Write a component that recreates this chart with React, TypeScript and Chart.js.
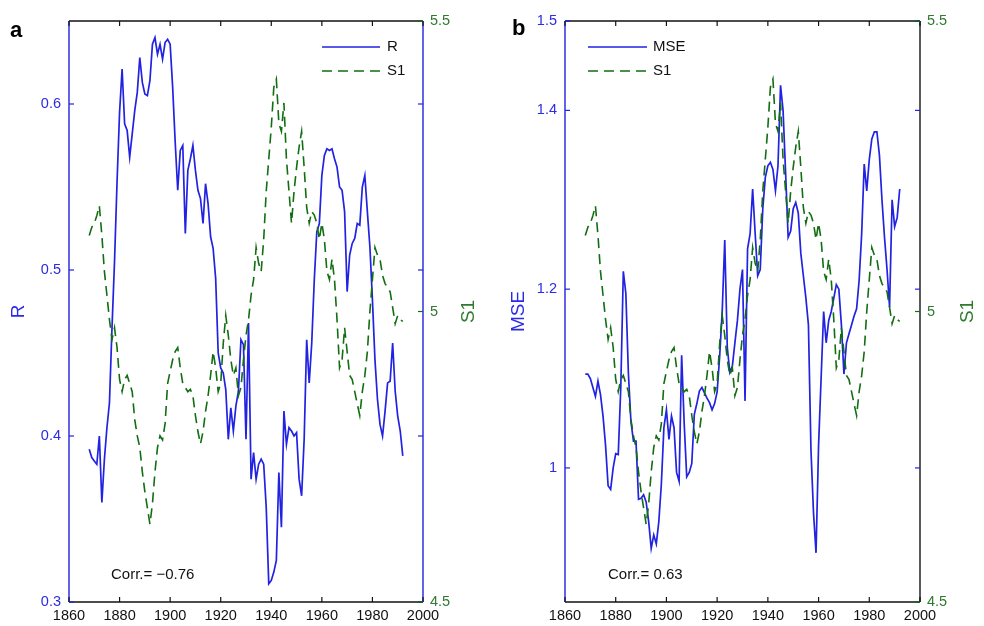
import { useEffect, useRef } from 'react';
import { Chart, registerables } from 'chart.js';

Chart.register(...registerables);

// ---------------- data ----------------
const YEARS = [
  1868, 1869, 1870, 1871, 1872, 1873, 1874, 1875, 1876, 1877,
  1878, 1879, 1880, 1881, 1882, 1883, 1884, 1885, 1886, 1887,
  1888, 1889, 1890, 1891, 1892, 1893, 1894, 1895, 1896, 1897,
  1898, 1899, 1900, 1901, 1902, 1903, 1904, 1905, 1906, 1907,
  1908, 1909, 1910, 1911, 1912, 1913, 1914, 1915, 1916, 1917,
  1918, 1919, 1920, 1921, 1922, 1923, 1924, 1925, 1926, 1927,
  1928, 1929, 1930, 1931, 1932, 1933, 1934, 1935, 1936, 1937,
  1938, 1939, 1940, 1941, 1942, 1943, 1944, 1945, 1946, 1947,
  1948, 1949, 1950, 1951, 1952, 1953, 1954, 1955, 1956, 1957,
  1958, 1959, 1960, 1961, 1962, 1963, 1964, 1965, 1966, 1967,
  1968, 1969, 1970, 1971, 1972, 1973, 1974, 1975, 1976, 1977,
  1978, 1979, 1980, 1981, 1982, 1983, 1984, 1985, 1986, 1987,
  1988, 1989, 1990, 1991, 1992,
];

const R_VALUES = [
  0.392, 0.387, 0.385, 0.383, 0.400, 0.360, 0.386, 0.405, 0.420, 0.465,
  0.505, 0.553, 0.595, 0.621, 0.588, 0.584, 0.568, 0.582, 0.596, 0.607,
  0.628, 0.613, 0.606, 0.605, 0.614, 0.636, 0.640, 0.630, 0.636, 0.627,
  0.637, 0.639, 0.636, 0.610, 0.577, 0.548, 0.572, 0.575, 0.522, 0.560,
  0.567, 0.575, 0.560, 0.548, 0.543, 0.528, 0.552, 0.540, 0.520, 0.513,
  0.495, 0.450, 0.441, 0.438, 0.428, 0.398, 0.417, 0.403, 0.418, 0.427,
  0.458, 0.455, 0.398, 0.468, 0.374, 0.390, 0.374, 0.383, 0.386, 0.383,
  0.357, 0.311, 0.313, 0.318, 0.325, 0.378, 0.345, 0.415, 0.395, 0.405,
  0.403, 0.400, 0.402, 0.374, 0.364, 0.398, 0.458, 0.432, 0.456, 0.494,
  0.523, 0.528, 0.557, 0.569, 0.573, 0.572, 0.573, 0.567, 0.562, 0.550,
  0.548, 0.535, 0.487, 0.509, 0.516, 0.519, 0.528, 0.527, 0.550, 0.557,
  0.535, 0.514, 0.482, 0.446, 0.422, 0.407, 0.400, 0.415, 0.432, 0.433,
  0.456, 0.427, 0.412, 0.403, 0.388,
];

const S1_VALUES = [
  5.131, 5.145, 5.152, 5.165, 5.182, 5.131, 5.069, 5.028, 4.986, 4.952,
  4.972, 4.938, 4.883, 4.862, 4.883, 4.890, 4.876, 4.862, 4.814, 4.786,
  4.766, 4.724, 4.690, 4.662, 4.634, 4.669, 4.724, 4.766, 4.786, 4.779,
  4.807, 4.876, 4.897, 4.917, 4.931, 4.938, 4.903, 4.876, 4.869, 4.862,
  4.866, 4.855, 4.821, 4.793, 4.772, 4.793, 4.828, 4.855, 4.890, 4.931,
  4.903, 4.862, 4.876, 4.945, 4.993, 4.959, 4.917, 4.890, 4.903, 4.855,
  4.869, 4.917, 4.959, 4.986, 5.028, 5.055, 5.110, 5.083, 5.069, 5.124,
  5.207, 5.262, 5.317, 5.386, 5.400, 5.324, 5.310, 5.359, 5.262, 5.207,
  5.152, 5.207, 5.248, 5.283, 5.310, 5.248, 5.179, 5.152, 5.172, 5.166,
  5.152, 5.124, 5.152, 5.124, 5.069, 5.055, 5.090, 5.055, 4.986, 4.903,
  4.917, 4.972, 4.931, 4.890, 4.883, 4.862, 4.841, 4.821, 4.862, 4.890,
  4.931, 5.000, 5.055, 5.110, 5.097, 5.090, 5.062, 5.048, 5.041, 5.034,
  5.007, 4.979, 4.993, 4.986, 4.983,
];

const MSE_VALUES = [
  1.105, 1.105, 1.100, 1.090, 1.080, 1.097, 1.082, 1.058, 1.025, 0.980,
  0.976, 1.000, 1.016, 1.015, 1.090, 1.220, 1.195, 1.106, 1.052, 1.030,
  1.030, 0.965, 0.966, 0.970, 0.962, 0.940, 0.910, 0.925, 0.915, 0.940,
  0.982, 1.045, 1.065, 1.032, 1.058, 1.045, 0.995, 0.985, 1.126, 1.050,
  0.990, 0.995, 1.005, 1.060, 1.072, 1.086, 1.090, 1.084, 1.078, 1.073,
  1.065, 1.072, 1.085, 1.125, 1.175, 1.255, 1.135, 1.107, 1.114, 1.140,
  1.165, 1.200, 1.222, 1.075, 1.245, 1.262, 1.312, 1.262, 1.215, 1.222,
  1.290, 1.325, 1.338, 1.342, 1.334, 1.310, 1.338, 1.428, 1.400, 1.330,
  1.258, 1.265, 1.290, 1.297, 1.285, 1.240, 1.215, 1.190, 1.160, 1.020,
  0.950, 0.905, 1.025, 1.100, 1.175, 1.140, 1.165, 1.175, 1.190, 1.205,
  1.200, 1.160, 1.105, 1.140, 1.150, 1.160, 1.170, 1.178, 1.210, 1.262,
  1.340, 1.310, 1.345, 1.368, 1.376, 1.376, 1.350, 1.300, 1.258, 1.222,
  1.180, 1.300, 1.270, 1.280, 1.312,
];

const X_TICKS = [1860, 1880, 1900, 1920, 1940, 1960, 1980, 2000];
const R_TICKS = [0.3, 0.4, 0.5, 0.6];
const MSE_TICKS = [1, 1.2, 1.4, 1.5];
const S1_TICKS = [4.5, 5, 5.5];
const CORR_A = 'Corr.= \u22120.76';
const CORR_B = 'Corr.= 0.63';

// ---------------- styling ----------------
const BLUE = '#2222e2';
const GREEN = '#116e11';
const BLUE_TXT = '#2b2be6';
const GREEN_TXT = '#2f7a2f';
const DASH = [10, 6];

function hasFont(name: string): boolean {
  const ctx = document.createElement('canvas').getContext('2d');
  if (!ctx) return false;
  const s = 'Corr.= 1860 MSE S1';
  ctx.font = '40px monospace';
  const a = ctx.measureText(s).width;
  ctx.font = `40px "${name}", monospace`;
  const b = ctx.measureText(s).width;
  return Math.abs(a - b) > 1;
}

const NARROW = hasFont('Liberation Sans Narrow');
const FAMILY = NARROW ? '"Liberation Sans Narrow", "Liberation Sans", Arial, sans-serif' : '"Liberation Sans", Arial, sans-serif';
const TICK_SIZE = NARROW ? 16 : 14.5;
const TEXT_SIZE = NARROW ? 17 : 15;
const TITLE_SIZE = NARROW ? 21 : 19;

type Panel = {
  leftW: number;
  rightW: number;
  leftLabel: string;
  leftValues: number[];
  leftMin: number;
  leftMax: number;
  leftTicks: number[];
  rightFrame: string;
  legend: { x0: number; x1: number; tx: number; y1: number; y2: number };
  corr: { text: string; x: number; y: number };
  letter: { text: string; x: number; y: number };
  titleLX: number;
  titleRX: number;
};

const PANEL_A: Panel = {
  leftW: 69,
  rightW: 69,
  leftLabel: 'R',
  leftValues: R_VALUES,
  leftMin: 0.3,
  leftMax: 0.65,
  leftTicks: R_TICKS,
  rightFrame: BLUE,
  legend: { x0: 322, x1: 380, tx: 387, y1: 47, y2: 71 },
  corr: { text: CORR_A, x: 111, y: 575 },
  letter: { text: 'a', x: 10, y: 37 },
  titleLX: 19,
  titleRX: 469,
};

const PANEL_B: Panel = {
  leftW: 73,
  rightW: 64,
  leftLabel: 'MSE',
  leftValues: MSE_VALUES,
  leftMin: 0.85,
  leftMax: 1.5,
  leftTicks: MSE_TICKS,
  rightFrame: '#151515',
  legend: { x0: 96, x1: 155, tx: 161, y1: 47, y2: 71 },
  corr: { text: CORR_B, x: 116, y: 575 },
  letter: { text: 'b', x: 20, y: 35 },
  titleLX: 27,
  titleRX: 476,
};

function makeConfig(p: Panel): any {
  const seg = (ctx: CanvasRenderingContext2D, x0: number, y0: number, x1: number, y1: number) => {
    ctx.beginPath();
    ctx.moveTo(x0, y0);
    ctx.lineTo(x1, y1);
    ctx.stroke();
  };
  const decor = {
    id: 'decor',
    afterDraw(chart: any) {
      const { ctx, chartArea } = chart;
      const { left, right, top, bottom } = chartArea;
      const sx = chart.scales.x;
      const sl = chart.scales.yL;
      const sr = chart.scales.yR;
      ctx.save();
      ctx.setLineDash([]);
      ctx.lineWidth = 1.4;
      // frame
      ctx.strokeStyle = '#111';
      seg(ctx, left, top, right, top);
      seg(ctx, left, bottom, right, bottom);
      ctx.strokeStyle = BLUE;
      seg(ctx, left, top, left, bottom);
      ctx.strokeStyle = p.rightFrame;
      seg(ctx, right, top, right, bottom);
      // inward ticks
      ctx.lineWidth = 1.2;
      ctx.strokeStyle = '#111';
      X_TICKS.forEach((v) => {
        const px = sx.getPixelForValue(v);
        seg(ctx, px, bottom, px, bottom - 5);
        seg(ctx, px, top, px, top + 5);
      });
      ctx.strokeStyle = BLUE;
      p.leftTicks.forEach((v) => {
        const py = sl.getPixelForValue(v);
        seg(ctx, left, py, left + 5, py);
        seg(ctx, right, py, right - 5, py);
      });
      ctx.strokeStyle = GREEN;
      S1_TICKS.forEach((v) => {
        const py = sr.getPixelForValue(v);
        seg(ctx, right, py, right - 5, py);
      });
      // axis titles
      ctx.font = `${TITLE_SIZE}px ${FAMILY}`;
      ctx.textAlign = 'center';
      ctx.textBaseline = 'middle';
      const midY = (top + bottom) / 2;
      ctx.fillStyle = BLUE_TXT;
      ctx.save();
      ctx.translate(p.titleLX, midY);
      ctx.rotate(-Math.PI / 2);
      ctx.fillText(p.leftLabel, 0, 0);
      ctx.restore();
      ctx.fillStyle = GREEN_TXT;
      ctx.save();
      ctx.translate(p.titleRX, midY);
      ctx.rotate(-Math.PI / 2);
      ctx.fillText('S1', 0, 0);
      ctx.restore();
      // legend
      const L = p.legend;
      ctx.lineWidth = 1.6;
      ctx.strokeStyle = BLUE;
      seg(ctx, L.x0, L.y1, L.x1, L.y1);
      ctx.setLineDash(DASH);
      ctx.strokeStyle = GREEN;
      seg(ctx, L.x0, L.y2, L.x1, L.y2);
      ctx.setLineDash([]);
      ctx.font = `${TEXT_SIZE}px ${FAMILY}`;
      ctx.fillStyle = '#111';
      ctx.textAlign = 'left';
      ctx.fillText(p.leftLabel, L.tx, L.y1);
      ctx.fillText('S1', L.tx, L.y2);
      // correlation
      ctx.fillText(p.corr.text, p.corr.x, p.corr.y);
      // panel letter
      ctx.font = `bold 22px "Liberation Sans", Arial, sans-serif`;
      ctx.textBaseline = 'alphabetic';
      ctx.fillStyle = '#000';
      ctx.fillText(p.letter.text, p.letter.x, p.letter.y);
      ctx.restore();
    },
  };

  const tickFont = { family: FAMILY, size: TICK_SIZE };
  return {
    type: 'line',
    data: {
      datasets: [
        {
          label: p.leftLabel,
          data: YEARS.map((y, i) => ({ x: y, y: p.leftValues[i] })),
          yAxisID: 'yL',
          borderColor: BLUE,
          borderWidth: 1.7,
          pointRadius: 0,
          tension: 0,
          fill: false,
          order: 1,
        },
        {
          label: 'S1',
          data: YEARS.map((y, i) => ({ x: y, y: S1_VALUES[i] })),
          yAxisID: 'yR',
          borderColor: GREEN,
          borderWidth: 1.6,
          borderDash: DASH,
          pointRadius: 0,
          tension: 0,
          fill: false,
          order: 0,
        },
      ],
    },
    options: {
      animation: false,
      responsive: false,
      devicePixelRatio: 1,
      layout: { padding: { top: 21, left: 0, right: 0, bottom: 0 } },
      plugins: { legend: { display: false }, tooltip: { enabled: false } },
      events: [],
      scales: {
        x: {
          type: 'linear',
          min: 1860,
          max: 2000,
          afterBuildTicks: (s: any) => {
            s.ticks = X_TICKS.map((v) => ({ value: v }));
          },
          ticks: {
            color: '#111',
            font: tickFont,
            padding: 5,
            maxRotation: 0,
            autoSkip: false,
            callback: (v: any) => String(v),
          },
          grid: { display: false, drawTicks: false },
          border: { display: false },
          afterFit: (s: any) => {
            s.height = 24;
          },
        },
        yL: {
          type: 'linear',
          position: 'left',
          min: p.leftMin,
          max: p.leftMax,
          afterBuildTicks: (s: any) => {
            s.ticks = p.leftTicks.map((v) => ({ value: v }));
          },
          ticks: {
            color: BLUE_TXT,
            font: tickFont,
            padding: 8,
            autoSkip: false,
            callback: (v: any) => String(v),
          },
          grid: { display: false, drawTicks: false },
          border: { display: false },
          afterFit: (s: any) => {
            s.width = p.leftW;
          },
        },
        yR: {
          type: 'linear',
          position: 'right',
          min: 4.5,
          max: 5.5,
          afterBuildTicks: (s: any) => {
            s.ticks = S1_TICKS.map((v) => ({ value: v }));
          },
          ticks: {
            color: GREEN_TXT,
            font: tickFont,
            padding: 7,
            autoSkip: false,
            callback: (v: any) => String(v),
          },
          grid: { display: false, drawTicks: false },
          border: { display: false },
          afterFit: (s: any) => {
            s.width = p.rightW;
          },
        },
      },
    },
    plugins: [decor],
  };
}

export default function App() {
  const refA = useRef<HTMLCanvasElement>(null);
  const refB = useRef<HTMLCanvasElement>(null);
  useEffect(() => {
    const a = new Chart(refA.current as HTMLCanvasElement, makeConfig(PANEL_A));
    const b = new Chart(refB.current as HTMLCanvasElement, makeConfig(PANEL_B));
    return () => {
      a.destroy();
      b.destroy();
    };
  }, []);
  return (
    <div style={{ position: 'absolute', left: 0, top: 0, width: 984, height: 626, background: '#fff' }}>
      <canvas
        ref={refA}
        width={492}
        height={626}
        style={{ position: 'absolute', left: 0, top: 0, width: 492, height: 626 }}
      />
      <canvas
        ref={refB}
        width={492}
        height={626}
        style={{ position: 'absolute', left: 492, top: 0, width: 492, height: 626 }}
      />
    </div>
  );
}
